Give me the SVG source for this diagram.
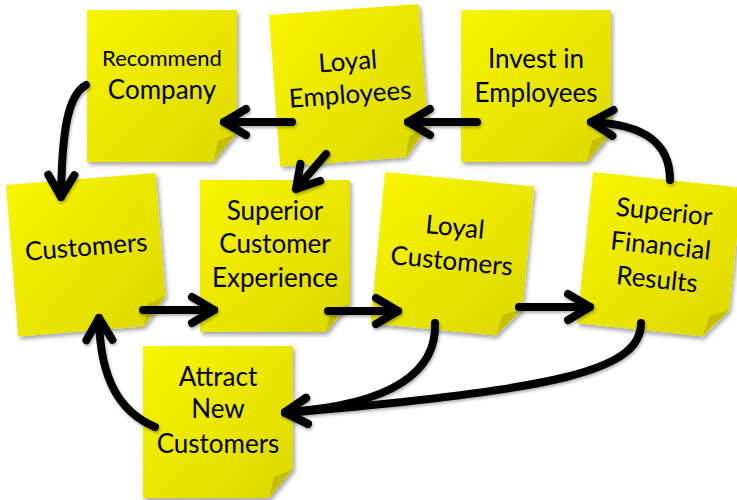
<svg xmlns="http://www.w3.org/2000/svg" width="737" height="500" viewBox="0 0 737 500">
  <defs>
    <linearGradient id="paper" x1="0" y1="0" x2="1" y2="1">
      <stop offset="0" stop-color="#f8f500"/>
      <stop offset="1" stop-color="#dcd800"/>
    </linearGradient>
    <linearGradient id="curl" x1="0" y1="0" x2="1" y2="1">
      <stop offset="0" stop-color="#b9b300"/>
      <stop offset="1" stop-color="#d6d000"/>
    </linearGradient>
    <filter id="lift" x="-10%" y="-10%" width="125%" height="125%">
      <feDropShadow dx="2" dy="3" stdDeviation="2" flood-color="#000" flood-opacity="0.35"/>
    </filter>
    <filter id="soft" x="-20%" y="-20%" width="140%" height="140%">
      <feDropShadow dx="1" dy="2" stdDeviation="1.5" flood-color="#000" flood-opacity="0.3"/>
    </filter>
    <!-- a sticky note, 150 x 152, with its lower right corner curled -->
    <path id="sheet" d="M0,0 H150 V123 L126,152 H0 Z"/>
    <path id="fold" d="M150,123 L126,152 L131,131 Z"/>
    <marker id="head" viewBox="-30 -20 40 40" markerWidth="40" markerHeight="40" refX="0" refY="0" orient="auto" markerUnits="userSpaceOnUse">
      <path d="M-22,-13 L0,0 L-22,13" fill="none" stroke="#000" stroke-width="8" stroke-linecap="round" stroke-linejoin="round"/>
    </marker>
  </defs>
  <style>
    .note use.s { fill: url(#paper); filter: url(#lift); }
    .note use.f { fill: url(#curl); }
    .note text { font-family: Lato, "Open Sans", "Liberation Sans", sans-serif; font-size: 26px; fill: #000; text-anchor: middle; }
    .note text.small { font-size: 22px; }
    #connectors path { fill: none; stroke: #000; stroke-width: 8; stroke-linecap: round; marker-end: url(#head); }
  </style>

  <rect width="737" height="500" fill="#fff"/>

  <g id="recommend-company" class="note" transform="translate(87,10)">
    <use class="s" href="#sheet"/><use class="f" href="#fold"/>
    <text class="small" x="75" y="56">Recommend</text>
    <text x="75" y="89">Company</text>
  </g>

  <g id="loyal-employees" class="note" transform="translate(269,15) rotate(-4.2)">
    <use class="s" href="#sheet"/><use class="f" href="#fold"/>
    <text x="75" y="61">Loyal</text>
    <text x="75" y="94">Employees</text>
  </g>

  <g id="invest-in-employees" class="note" transform="translate(461,10)">
    <use class="s" href="#sheet"/><use class="f" href="#fold"/>
    <text x="75" y="58">Invest in</text>
    <text x="75" y="92">Employees</text>
  </g>

  <g id="customers" class="note" transform="translate(6,185) rotate(-4.6)">
    <use class="s" href="#sheet"/><use class="f" href="#fold"/>
    <text x="75" y="77">Customers</text>
  </g>

  <g id="superior-customer-experience" class="note" transform="translate(200,180)">
    <use class="s" href="#sheet"/><use class="f" href="#fold"/>
    <text x="75" y="40">Superior</text>
    <text x="75" y="73">Customer</text>
    <text x="75" y="107">Experience</text>
  </g>

  <g id="loyal-customers" class="note" transform="translate(385,172) rotate(5.5)">
    <use class="s" href="#sheet"/><use class="f" href="#fold"/>
    <text x="75" y="57">Loyal</text>
    <text x="75" y="91">Customers</text>
  </g>

  <g id="superior-financial-results" class="note" transform="translate(593,172) rotate(6)">
    <use class="s" href="#sheet"/><use class="f" href="#fold"/>
    <text x="75" y="41">Superior</text>
    <text x="75" y="75">Financial</text>
    <text x="75" y="109">Results</text>
  </g>

  <g id="attract-new-customers" class="note" transform="translate(143,346)">
    <use class="s" href="#sheet"/><use class="f" href="#fold"/>
    <text x="75" y="40">Attract</text>
    <text x="75" y="72">New</text>
    <text x="75" y="107">Customers</text>
  </g>

  <g id="connectors" filter="url(#soft)">
    <path d="M292,122 L224,122"/>
    <path d="M477,122 L408,122"/>
    <path d="M670,180 C670,140 640,124 591,122"/>
    <path d="M86,85 C68,95 62,130 61,197"/>
    <path d="M326,154 L296,189"/>
    <path d="M143,310 L214,310"/>
    <path d="M328,311 L398,311"/>
    <path d="M519,307 L590,307"/>
    <path d="M155,427 C120,412 100,380 99,318"/>
    <path d="M435,323 C437,370 395,405 285,412"/>
    <path d="M641,323 C641,370 560,390 285,413"/>
  </g>
</svg>
